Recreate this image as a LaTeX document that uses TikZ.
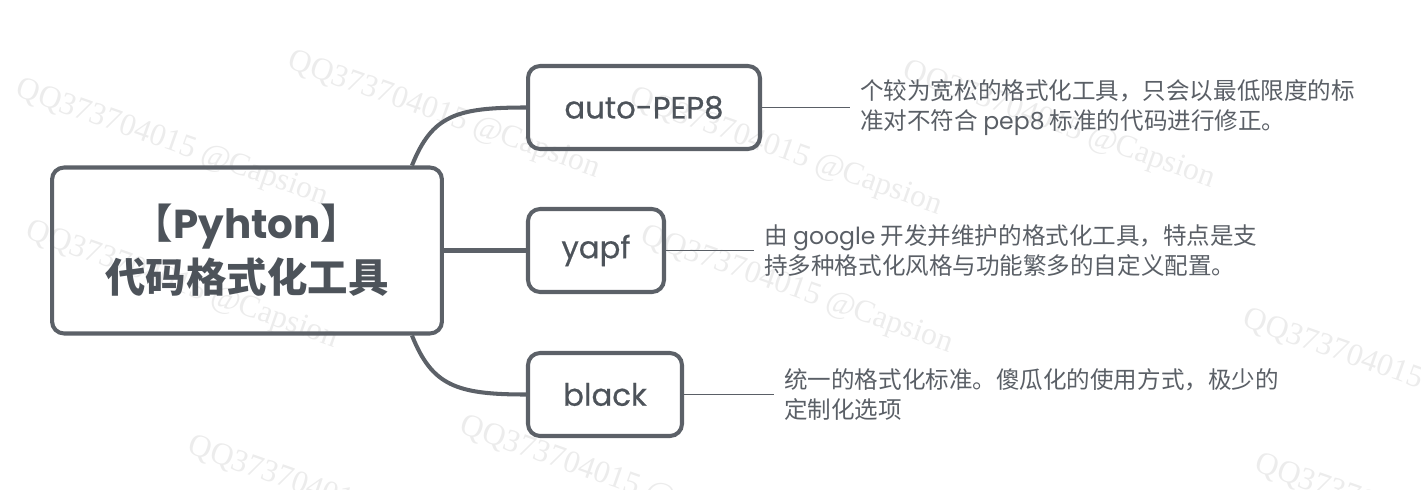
\documentclass[tikz,border=0pt]{standalone}
\usepackage{fontspec}
\setmainfont{Poppins}
\newfontfamily\cjk{Noto Sans CJK SC}
\newfontfamily\labelfont{Poppins}[FakeBold=0.6]
\newfontfamily\markfont{Liberation Serif}
\usetikzlibrary{positioning}
\definecolor{edge}{RGB}{92,97,104}
\definecolor{ink}{RGB}{77,83,90}
\definecolor{note}{RGB}{90,95,102}
\definecolor{mark}{RGB}{236,236,236}
\tikzset{
    root/.style={
        draw=edge,
        line width=2.3pt,
        rounded corners=0.24cm,
        text=ink,
        align=center,
        minimum width=7.8cm,
        minimum height=3.32cm,
        font=\bfseries\fontsize{23}{30.7}\selectfont
    },
    topic/.style={
        draw=edge,
        line width=2.3pt,
        rounded corners=0.24cm,
        text=ink,
        minimum width=#1,
        minimum height=1.66cm,
        font=\labelfont\fontsize{17.5}{20}\selectfont
    },
    topic/.default=3cm,
    note/.style={
        text=note,
        align=left,
        inner sep=0.2cm,
        font=\cjk\fontsize{13.4}{17}\selectfont
    },
    branch/.style={
        draw=edge,
        line width=2.3pt
    },
    leader/.style={
        draw=note,
        line width=0.85pt
    },
    watermark/.style={
        text=mark,
        rotate=-19.5,
        anchor=north west,
        font=\markfont\fontsize{18}{18}\selectfont
    }
}
\begin{document}
\begin{tikzpicture}[x=0.02cm, y=-0.02cm]
    \useasboundingbox (0,0) rectangle (1421,490);

    % 水印
    \foreach \x/\y in {18/68, 290/40, 632/77, 905/50, 28/210, 643/215, 1245/298, 190/425, 462/405, 1257/443} {
        \node[watermark] at (\x,\y) {QQ373704015 @Capsion};
    }

    % 中心主题
    \node[root] (root) at (247,250.5) {{\cjk 【}Pyhton{\cjk 】}\\{\cjk 代码格式化工具}};

    % 三个工具
    \node[topic=4.64cm] (pep) at (644,107.5) {auto-PEP8};
    \node[topic=2.72cm] (yapf) at (596,250.5) {yapf};
    \node[topic=3.08cm] (black) at (605,394.5) {black};

    % 说明文字
    \node[note, right=1.76cm of pep] (pepnote) {个较为宽松的格式化工具，只会以最低限度的标\\准对不符合 {\rmfamily pep8} 标准的代码进行修正。};
    \node[note, right=1.76cm of yapf] (yapfnote) {由 {\rmfamily google} 开发并维护的格式化工具，特点是支\\持多种格式化风格与功能繁多的自定义配置。};
    \node[note, right=1.8cm of black] (blacknote) {统一的格式化标准。傻瓜化的使用方式，极少的\\定制化选项};

    % 连线
    \coordinate[left=0.64cm of root.north east] (rootup);
    \coordinate[left=0.64cm of root.south east] (rootdown);
    \draw[branch] (rootup) .. controls +(20,-50) and +(-70,0) .. (pep.west);
    \draw[branch] (root.east) -- (yapf.west);
    \draw[branch] (rootdown) .. controls +(20,50) and +(-70,0) .. (black.west);

    \draw[leader] (pep.east) -- (pepnote.west);
    \draw[leader] (yapf.east) -- (yapfnote.west);
    \draw[leader] (black.east) -- (blacknote.west);
\end{tikzpicture}
\end{document}
